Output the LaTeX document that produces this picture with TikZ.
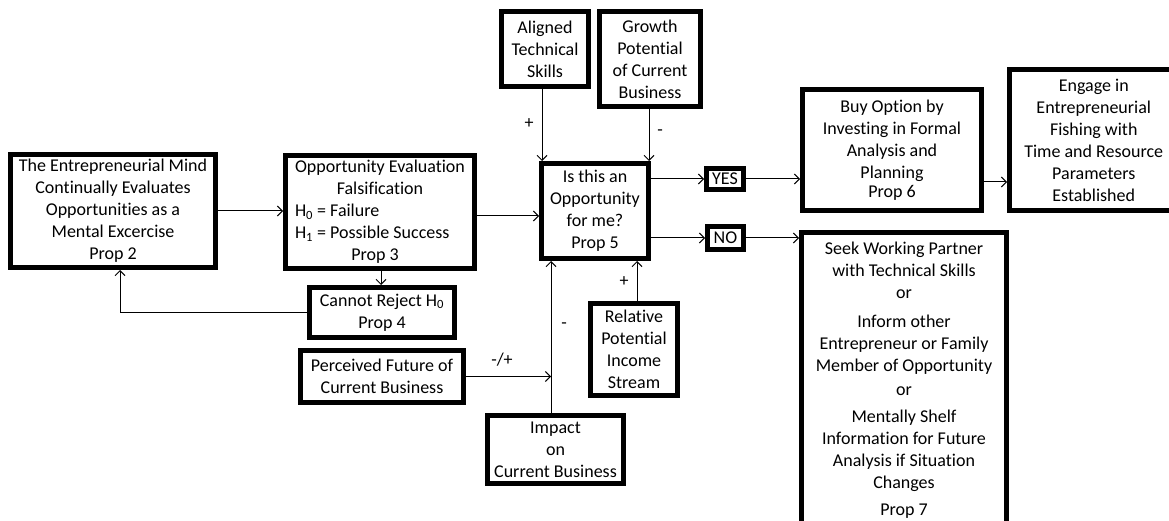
\documentclass[tikz,border=0pt]{standalone}
\usepackage{fontspec}
\setmainfont{Carlito}[Ligatures=NoCommon]
\usetikzlibrary{arrows.meta}

\begin{document}
\begin{tikzpicture}[x=1pt,y=-1pt,
  box node/.style={rectangle,draw,fill=white,line width=5pt,align=center,inner sep=0pt,
    font=\fontsize{18}{22}\selectfont},
  tag node/.style={font=\fontsize{18}{22}\selectfont,inner sep=1pt},
  link/.style={line width=1pt,-{Straight Barb[length=5pt,width=10pt]}}]

  \useasboundingbox (0,0) rectangle (1169,521);
  \clip (0,0) rectangle (1169,521);

  \node[box node,minimum width=205,minimum height=113] (mind) at (113,211)
    {The Entrepreneurial Mind\\Continually Evaluates\\Opportunities as a\\Mental Excercise\\Prop 2};
  \node[box node,minimum width=189,minimum height=113,align=left] (eval) at (380,212)
    {\makebox[170pt]{Opportunity Evaluation}\\\makebox[170pt]{Falsification}\\H\textsubscript{0} = Failure\\H\textsubscript{1} = Possible Success\\\makebox[160pt]{Prop 3}};
  \node[box node,minimum width=145,minimum height=50] (reject) at (382,312.5)
    {Cannot Reject H\textsubscript{0}\\Prop 4};
  \node[box node,minimum width=163,minimum height=52] (future) at (382,376.5)
    {Perceived Future of\\Current Business};
  \node[box node,minimum width=136,minimum height=68] (impact) at (555.5,449.5)
    {Impact\\on\\Current Business};
  \node[box node,minimum width=107,minimum height=95] (opp) at (595,211)
    {Is this an\\Opportunity\\for me?\\Prop 5};
  \node[box node,minimum width=87,minimum height=75] (skills) at (545,49)
    {Aligned\\Technical\\Skills};
  \node[box node,minimum width=101,minimum height=95] (growth) at (650,59)
    {Growth\\Potential\\of Current\\Business};
  \node[box node,minimum width=87,minimum height=92] (income) at (634,349.5)
    {Relative\\Potential\\Income\\Stream};
  \node[box node,minimum width=37,minimum height=21] (yes) at (725,179) {YES};
  \node[box node,minimum width=36,minimum height=23] (no) at (725.5,238) {NO};
  \node[box node,minimum width=179,minimum height=121] (buy) at (892,150)
    {Buy Option by\\Investing in Formal\\Analysis and\\Planning\\[-3pt]Prop 6};
  \node[box node,minimum width=168.5,minimum height=141] (fish) at (1093.75,140)
    {Engage in\\Entrepreneurial\\Fishing with\\Time and Resource\\Parameters\\Established};
  \node[box node,minimum width=205,minimum height=295] (seek) at (904,380)
    {Seek Working Partner\\with Technical Skills\\or\\[7pt]Inform other\\Entrepreneur or Family\\Member of Opportunity\\[2pt]or\\[5pt]Mentally Shelf\\Information for Future\\Analysis if Situation\\Changes\\[5pt]Prop 7};

  \node[tag node] (plusskills) at (529,124) {+};
  \node[tag node] (minusgrowth) at (660,133) {-};
  \node[tag node] (minusimpact) at (564,326) {-};
  \node[tag node] (plusincome) at (624,282) {+};
  \node[tag node] (mixfuture) at (502,360) {-/+};

  \coordinate (trunk) at ([xshift=-4.5pt]impact.north);

  \draw[link] (mind.east) -- (mind.east -| eval.west);
  \draw[link] ([yshift=-4pt]eval.east) -- ([yshift=-4pt]eval.east -| opp.west);
  \draw[link] ([xshift=1pt]eval.south) -- ([xshift=1pt]eval.south |- reject.north);
  \draw[link] (reject.west) -| ([xshift=7pt]mind.south);
  \draw[link] ([xshift=-3pt]skills.south) -- ([xshift=-3pt]skills.south |- opp.north);
  \draw[link] ([xshift=-1pt]growth.south) -- ([xshift=-1pt]growth.south |- opp.north);
  \draw[link] (yes.west -| opp.east) -- (yes.west);
  \draw[link] (no.west -| opp.east) -- (no.west);
  \draw[link] (yes.east) -- (yes.east -| buy.west);
  \draw[link] (no.east) -- (no.east -| seek.west);
  \draw[link] ([yshift=-32pt]buy.east) -- ([yshift=-32pt]buy.east -| fish.west);
  \draw[link] (trunk) -- (trunk |- opp.south);
  \draw[link] (future.east) -- (future.east -| trunk);
  \draw[link] ([xshift=3pt]income.north) -- ([xshift=3pt]income.north |- opp.south);
\end{tikzpicture}
\end{document}
